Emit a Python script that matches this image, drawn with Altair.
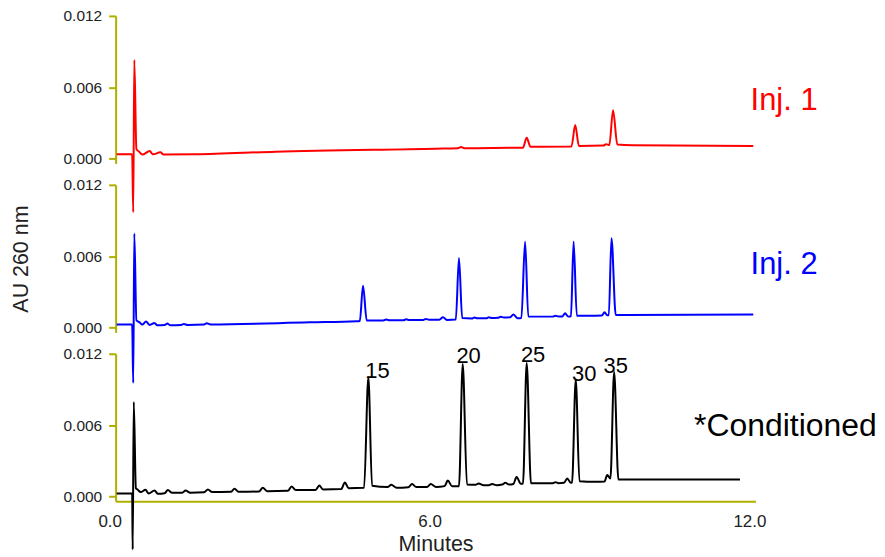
import altair as alt
import pandas as pd

# ---------------- data ----------------
red_t = [0.02, 0.31, 0.33, 0.35, 0.39, 0.44, 0.50, 0.64, 0.70, 0.84, 0.90, 1.5, 3.0, 6.0,
         6.42, 6.48, 6.54, 7.64, 7.71, 7.78, 8.55, 8.62, 8.69, 9.15, 9.20, 9.26, 9.33, 9.41,
         9.7, 11.96]
red_v = [0.00036, 0.00036, -0.0045, 0.0083, 0.0008, 0.00059, 0.00034, 0.00064, 0.00036,
         0.00053, 0.00034, 0.00036, 0.00059, 0.00084, 0.00088, 0.00098, 0.00088, 0.00092,
         0.00176, 0.00100, 0.00103, 0.00282, 0.00106, 0.00110, 0.00122, 0.00114, 0.00408,
         0.00118, 0.00112, 0.00106]

blue_t = [0.02, 0.31, 0.33, 0.35, 0.39, 0.45, 0.50, 0.57, 0.64, 0.73, 0.78, 0.92, 0.97,
          1.02, 1.23, 1.28, 1.35, 1.66, 1.71, 1.78, 3.64, 4.52, 4.58, 4.64, 4.71, 5.02,
          5.08, 5.14, 5.40, 5.45, 5.51, 5.77, 5.82, 5.88, 6.07, 6.14, 6.22, 6.38, 6.44,
          6.50, 6.68, 6.73, 6.79, 6.95, 7.00, 7.06, 7.17, 7.22, 7.28, 7.40, 7.46, 7.54,
          7.61, 7.68, 7.74, 7.88, 8.20, 8.25, 8.31, 8.38, 8.43, 8.49, 8.54, 8.59, 8.65,
          9.00, 9.12, 9.17, 9.22, 9.25, 9.30, 9.38, 11.96]
blue_v = [0.00025, 0.00025, -0.00465, 0.0079, 0.0006, 0.00044, 0.00025, 0.0005, 0.00022,
          0.00039, 0.0002, 0.00022, 0.00034, 0.0002, 0.00022, 0.0003, 0.00022, 0.00026,
          0.00036, 0.00026, 0.00044, 0.00053, 0.00055, 0.00352, 0.00059, 0.00060, 0.00067,
          0.00061, 0.00062, 0.00069, 0.00063, 0.00064, 0.00072, 0.00065, 0.00066, 0.00086,
          0.00064, 0.00067, 0.00584, 0.00080, 0.00076, 0.00084, 0.00078, 0.00078, 0.00086,
          0.00080, 0.00082, 0.00091, 0.00084, 0.00086, 0.00109, 0.00078, 0.00080, 0.00724,
          0.00092, 0.00092, 0.00092, 0.00099, 0.00093, 0.00094, 0.0012, 0.00092, 0.00095,
          0.00724, 0.0010, 0.0010, 0.00101, 0.00128, 0.00103, 0.00103, 0.00752, 0.00106,
          0.00109]

black_t = [0.02, 0.31, 0.32, 0.34, 0.38, 0.41, 0.47, 0.56, 0.62, 0.73, 0.79, 0.92, 0.98,
           1.06, 1.25, 1.31, 1.40, 1.66, 1.73, 1.81, 2.16, 2.23, 2.31, 2.69, 2.76, 2.84,
           3.23, 3.30, 3.38, 3.75, 3.82, 3.89, 4.23, 4.30, 4.37, 4.66, 4.74, 4.81, 5.10,
           5.17, 5.27, 5.49, 5.56, 5.64, 5.84, 5.91, 6.01, 6.17, 6.23, 6.31, 6.44, 6.51,
           6.59, 6.75, 6.81, 6.90, 7.00, 7.06, 7.15, 7.25, 7.31, 7.38, 7.46, 7.52, 7.60,
           7.64, 7.71, 7.79, 8.20, 8.25, 8.31, 8.41, 8.47, 8.54, 8.56, 8.63, 8.70, 9.00,
           9.17, 9.22, 9.28, 9.35, 9.43, 11.71]
black_v = [0.00025, 0.00025, -0.00445, 0.00795, 0.0007, 0.00059, 0.00037, 0.00056, 0.00025,
           0.0005, 0.00023, 0.00028, 0.00054, 0.00031, 0.00031, 0.0005, 0.00031, 0.00035,
           0.00059, 0.00037, 0.00039, 0.00065, 0.00039, 0.00042, 0.00073, 0.00045, 0.00048,
           0.00084, 0.00054, 0.00055, 0.00092, 0.00059, 0.00062, 0.00117, 0.0007, 0.00073,
           0.01002, 0.0009, 0.00080, 0.00098, 0.00073, 0.00078, 0.00104, 0.00079, 0.00080,
           0.00104, 0.00080, 0.00087, 0.00134, 0.00087, 0.00087, 0.01113, 0.0010, 0.00098,
           0.00109, 0.00095, 0.00095, 0.00105, 0.00095, 0.00100, 0.00115, 0.00100, 0.00105,
           0.00163, 0.00107, 0.00107, 0.01122, 0.00112, 0.00112, 0.00120, 0.00112, 0.00115,
           0.00151, 0.00115, 0.00115, 0.00982, 0.00129, 0.00123, 0.00125, 0.0018, 0.00151,
           0.01046, 0.00143, 0.00143]

peak_labels = ["15", "20", "25", "30", "35"]
peak_lbl_t = [4.91, 6.62, 7.83, 8.79, 9.38]
peak_lbl_v = [0.0100, 0.0112, 0.0113, 0.0097, 0.0104]

series_names = ["Inj. 1", "Inj. 2", "*Conditioned"]
series_colors = ["#FF0000", "#0000FF", "#000000"]
series_font = [31, 31, 32]
series_lbl_t = [11.91, 11.91, 10.85]
series_lbl_v = [0.00405, 0.00447, 0.0051]

y_ticks = [0.0, 0.006, 0.012]
x_ticks = [0.0, 6.0, 12.0]

OLIVE = "#AFAF00"
FONT = "Liberation Sans"


def make_panel(t, v, idx, show_x, y_title, peaks=False):
    color = series_colors[idx]
    xscale = alt.Scale(domain=[0, 12], nice=False, zero=False)
    if show_x:
        x_axis = alt.Axis(values=x_ticks, format=".1f", title="Minutes", ticks=False,
                          domainColor=OLIVE, domainWidth=2, labelFontSize=17,
                          labelColor="#222", labelPadding=12, labelOffset=-6,
                          labelFlush=False, titleFontSize=21.5, titleFontWeight="normal",
                          titleColor="#222", titlePadding=4, grid=False)
        x_enc = alt.X("t:Q", scale=xscale, axis=x_axis)
    else:
        x_enc = alt.X("t:Q", scale=xscale, axis=None)
    y_axis = alt.Axis(values=y_ticks, format=".3f", title=y_title, domainColor=OLIVE,
                      domainWidth=2, tickColor=OLIVE, tickWidth=2, tickSize=7,
                      labelFontSize=15.5, labelColor="#222", labelPadding=7, grid=False,
                      titleFontSize=21.5, titleFontWeight="normal", titleColor="#222",
                      titlePadding=31)
    y_enc = alt.Y("v:Q", scale=alt.Scale(domain=[-0.0004, 0.012], nice=False, zero=False),
                  axis=y_axis)

    df = pd.DataFrame({"t": t, "v": v})
    line = alt.Chart(df).mark_line(color=color, strokeWidth=2,
                                   interpolate="monotone").encode(x=x_enc, y=y_enc)

    lab = pd.DataFrame({"t": [series_lbl_t[idx]], "v": [series_lbl_v[idx]],
                        "s": [series_names[idx]]})
    name_txt = alt.Chart(lab).mark_text(align="left", baseline="alphabetic",
                                        fontSize=series_font[idx],
                                        color=color, font=FONT).encode(
        x=x_enc, y=y_enc, text="s:N")
    layers = [line, name_txt]
    if peaks:
        pk = pd.DataFrame({"t": peak_lbl_t, "v": peak_lbl_v, "s": peak_labels})
        pk_txt = alt.Chart(pk).mark_text(align="center", baseline="alphabetic",
                                         fontSize=22, color="#000", font=FONT).encode(
            x=x_enc, y=y_enc, text="s:N")
        layers.append(pk_txt)
    return alt.layer(*layers).properties(width=642, height=148)


p1 = make_panel(red_t, red_v, 0, False, None)
p2 = make_panel(blue_t, blue_v, 1, False, "AU 260 nm")
p3 = make_panel(black_t, black_v, 2, True, None, peaks=True)

chart = alt.vconcat(p1, p2, p3, spacing=21.5, bounds="flush").properties(
    padding={"left": 2, "top": 0, "right": 0, "bottom": 0}
).configure(font=FONT).configure_view(stroke=None)

chart.save("out.html", embed_options={"renderer": "svg", "actions": False})
